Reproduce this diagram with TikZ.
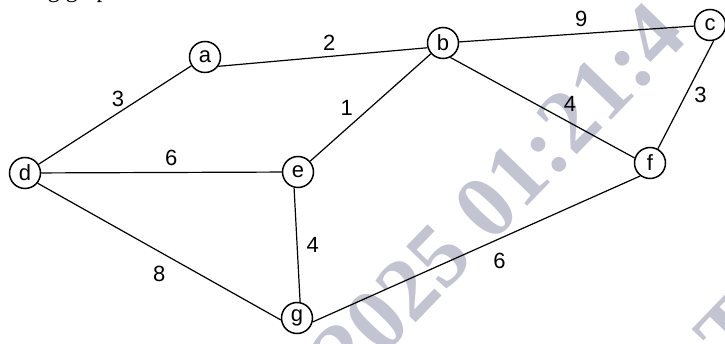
\documentclass[tikz,border=0pt]{standalone}
\usepackage{fontspec}
\setmainfont{Liberation Sans}
\newfontfamily\seriffont{Liberation Serif}
\usetikzlibrary{positioning}
\definecolor{stampgray}{RGB}{194,196,210}

\begin{document}
\begin{tikzpicture}[x=1pt, y=-1pt,
  vertex/.style={circle, draw, line width=1.5pt, minimum size=31pt,
                 inner sep=0pt, font=\fontsize{22}{24}\selectfont},
  edge/.style={line width=1.2pt},
  wt/.style={font=\fontsize{22}{24}\selectfont, inner sep=1pt},
  stamp/.style={text=stampgray, font=\seriffont\bfseries\fontsize{90}{93}\selectfont,
                anchor=base west, rotate=46, inner sep=0pt},
]
\useasboundingbox (0,0) rectangle (725,344);
% watermark behind the graph
\node[stamp] (stamp) at (350.6,390.1) {2025 01:21:4};
\node[stamp] (stampb) at (733,372) {T};
% caption cut off at the top
\node[anchor=base west, inner sep=0pt, font=\seriffont\fontsize{24}{26}\selectfont] (cap) at (29,-2) {ing graph:};

\node[vertex] (a) at (205,57) {a};
\node[vertex] (b) at (443,43) {b};
\node[vertex] (c) at (710,25) {c};
\node[vertex] (d) at (25,173) {d};
\node[vertex] (e) at (298,172) {e};
\node[vertex] (f) at (650,163) {f};
\node[vertex] (g) at (297,318) {g};

\draw[edge] (d) -- node[wt, pos=0.52, above=5pt] {3} (a);
\draw[edge] (a.-35) -- node[wt, pos=0.53, above=4pt] {2} (b.197);
\draw[edge] (b) -- node[wt, pos=0.52, above=5pt] {9} (c);
\draw[edge] (d) -- node[wt, pos=0.54, above=5pt] {6} (e);
\draw[edge] (b) -- node[wt, midway, left=16pt] {1} (e);
\draw[edge] (b.-63) -- node[wt, pos=0.65, above=10pt] {4} (f.162);
\draw[edge] (c.-77) -- node[wt, midway, right=7pt] {3} (f.61);
\draw[edge] (e.-104) -- node[wt, midway, right=8pt] {4} (g.79);
\draw[edge] (d.-39) -- node[wt, midway, below=13pt] {8} (g.187);
\draw[edge] (g.-14) -- node[wt, pos=0.57, below=13pt] {6} (f.233);
\end{tikzpicture}
\end{document}
